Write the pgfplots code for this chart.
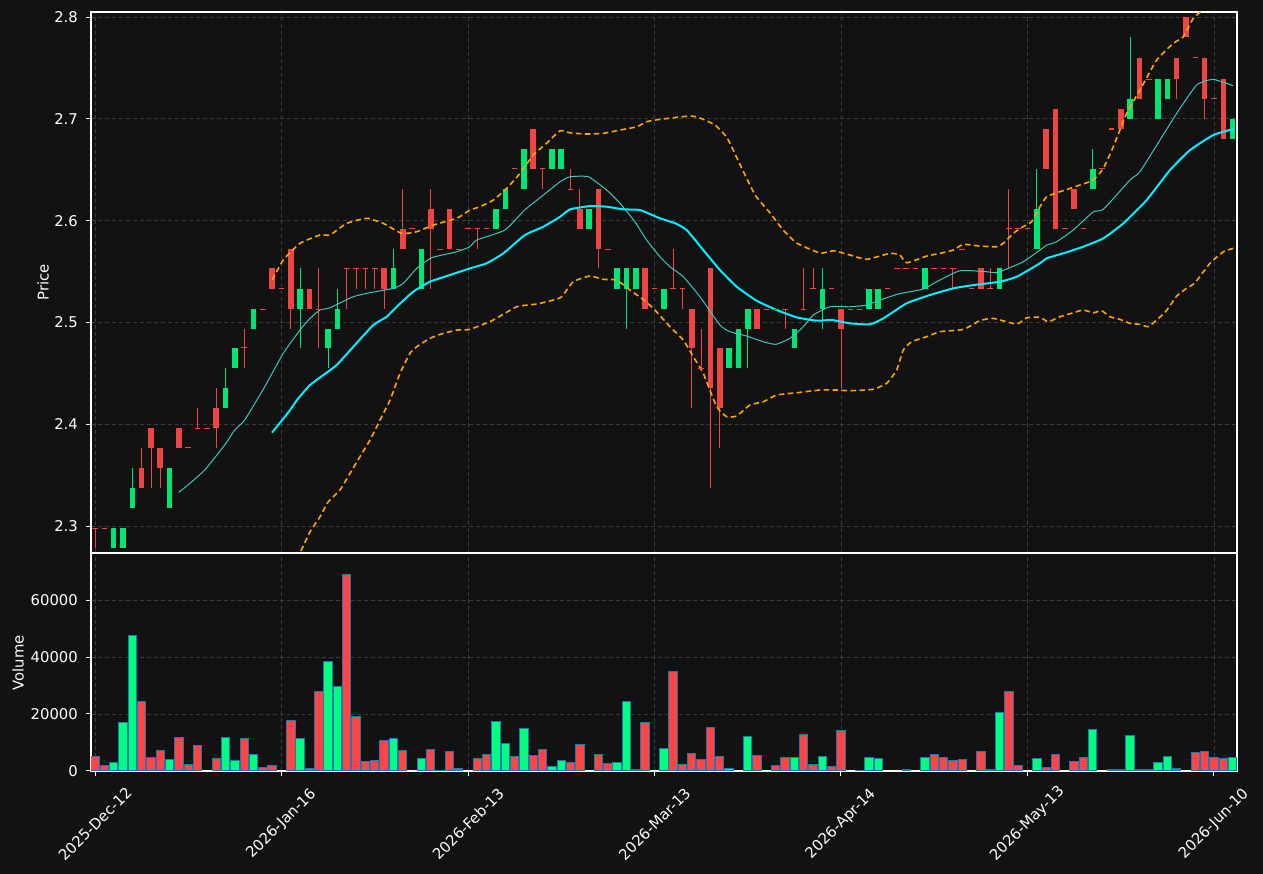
\documentclass[border=0pt]{standalone}
\usepackage{pgfplots}
\pgfplotsset{compat=1.18}
\usepackage{pgfplotstable}
\usepackage{fontspec}
\setmainfont{DejaVu Sans}
\definecolor{bg}{HTML}{121212}
\definecolor{gridc}{HTML}{3C3C3C}
\definecolor{cgreen}{HTML}{00E676}
\definecolor{cred}{HTML}{EF4444}
\definecolor{vgreen}{HTML}{00FF80}
\definecolor{vred}{HTML}{FF4444}
\definecolor{vedge}{HTML}{1F77B4}
\definecolor{maten}{HTML}{3CC8BE}
\definecolor{matwenty}{HTML}{00F0FF}
\definecolor{bbc}{HTML}{FFA500}

% green candles: index open high low close
\pgfplotstableread{
i o h l c
2 2.278 2.298 2.278 2.298
3 2.278 2.298 2.278 2.298
4 2.318 2.357 2.318 2.337
8 2.318 2.357 2.318 2.357
14 2.416 2.455 2.416 2.436
15 2.455 2.475 2.455 2.475
17 2.494 2.513 2.494 2.513
22 2.513 2.553 2.475 2.533
25 2.475 2.494 2.455 2.494
26 2.494 2.533 2.494 2.513
32 2.533 2.572 2.533 2.553
35 2.533 2.572 2.533 2.572
43 2.592 2.611 2.592 2.611
44 2.611 2.631 2.611 2.631
46 2.631 2.670 2.631 2.670
49 2.651 2.670 2.651 2.670
50 2.651 2.670 2.651 2.670
53 2.592 2.611 2.592 2.611
56 2.533 2.553 2.533 2.553
57 2.533 2.553 2.494 2.553
58 2.533 2.553 2.533 2.553
61 2.513 2.533 2.513 2.533
68 2.455 2.475 2.455 2.475
69 2.455 2.494 2.455 2.494
70 2.494 2.513 2.455 2.513
75 2.475 2.494 2.475 2.494
78 2.513 2.553 2.494 2.533
83 2.513 2.533 2.513 2.533
84 2.513 2.533 2.513 2.533
89 2.533 2.553 2.533 2.553
97 2.533 2.553 2.533 2.553
101 2.572 2.651 2.572 2.611
107 2.631 2.670 2.631 2.651
111 2.700 2.780 2.700 2.720
114 2.700 2.739 2.700 2.739
115 2.720 2.739 2.720 2.739
122 2.680 2.700 2.680 2.700
}\greentab

% red candles with a body
\pgfplotstableread{
i o h l c
5 2.357 2.377 2.337 2.337
6 2.396 2.396 2.337 2.377
7 2.377 2.377 2.337 2.357
9 2.396 2.396 2.377 2.377
13 2.416 2.436 2.377 2.396
19 2.553 2.553 2.533 2.533
21 2.572 2.572 2.494 2.513
23 2.533 2.533 2.513 2.513
31 2.553 2.553 2.513 2.533
33 2.592 2.631 2.572 2.572
36 2.611 2.631 2.533 2.592
38 2.611 2.611 2.572 2.572
47 2.690 2.690 2.651 2.651
52 2.611 2.631 2.592 2.592
54 2.631 2.631 2.553 2.572
59 2.553 2.553 2.513 2.513
64 2.513 2.513 2.416 2.475
66 2.553 2.553 2.337 2.436
67 2.475 2.475 2.377 2.416
71 2.513 2.513 2.494 2.494
80 2.513 2.513 2.436 2.494
95 2.553 2.553 2.533 2.533
102 2.690 2.690 2.651 2.651
103 2.710 2.710 2.592 2.592
105 2.631 2.631 2.611 2.611
110 2.710 2.710 2.690 2.690
112 2.760 2.760 2.720 2.720
116 2.760 2.760 2.720 2.739
117 2.800 2.800 2.780 2.780
119 2.760 2.760 2.700 2.720
121 2.739 2.739 2.680 2.680
}\redtab

% flat candles (open = close)
\pgfplotstableread{
i v h l
0 2.298 2.298 2.278
1 2.298 2.298 2.298
10 2.377 2.377 2.377
11 2.396 2.416 2.396
12 2.396 2.396 2.396
16 2.475 2.494 2.455
18 2.513 2.513 2.513
20 2.533 2.533 2.533
24 2.513 2.553 2.475
27 2.553 2.553 2.513
28 2.553 2.553 2.533
29 2.553 2.553 2.533
30 2.553 2.553 2.533
34 2.592 2.592 2.592
37 2.572 2.572 2.572
39 2.572 2.572 2.572
40 2.592 2.592 2.592
41 2.592 2.592 2.572
42 2.592 2.592 2.592
45 2.651 2.651 2.651
48 2.651 2.651 2.631
51 2.631 2.651 2.631
55 2.572 2.572 2.572
60 2.533 2.533 2.533
62 2.533 2.572 2.533
63 2.533 2.533 2.513
65 2.455 2.494 2.455
72 2.513 2.513 2.513
73 2.513 2.513 2.513
74 2.513 2.513 2.494
76 2.513 2.553 2.513
77 2.533 2.553 2.533
79 2.533 2.533 2.533
81 2.513 2.513 2.513
82 2.513 2.513 2.513
85 2.533 2.533 2.533
86 2.553 2.553 2.553
87 2.553 2.553 2.553
88 2.553 2.553 2.553
90 2.553 2.553 2.553
91 2.553 2.553 2.553
92 2.553 2.553 2.533
93 2.572 2.572 2.572
94 2.533 2.533 2.533
96 2.533 2.553 2.533
98 2.592 2.631 2.553
99 2.592 2.592 2.592
100 2.592 2.592 2.592
104 2.592 2.592 2.592
106 2.592 2.592 2.592
108 2.651 2.651 2.651
109 2.690 2.690 2.690
113 2.739 2.739 2.739
118 2.760 2.760 2.760
120 2.720 2.720 2.720
}\flattab

\pgfplotstableread{
i v
8.98 2.3331
9.97 2.3403
11.76 2.3550
13.91 2.3796
14.98 2.3943
16.05 2.4041
18.2 2.4368
20.19 2.4697
21.98 2.4925
23.06 2.5040
24.13 2.5122
25.2 2.5144
27.7 2.5253
29.49 2.5292
31.99 2.5335
33.06 2.5384
34.5 2.5531
36.11 2.5636
38.79 2.5694
40.21 2.5744
40.93 2.5809
43.97 2.5908
46.11 2.6107
48.08 2.6251
49.87 2.6382
50.94 2.6431
52.9 2.6431
54.87 2.6301
56.3 2.6170
57.9 2.5989
59.16 2.5809
60.59 2.5645
61.66 2.5547
63.09 2.5449
64.88 2.5252
67.02 2.4974
68.1 2.4909
69.89 2.4866
71.67 2.4810
73.03 2.4785
74.53 2.4844
75.96 2.4958
77.03 2.5073
78.82 2.5154
80.97 2.5154
82.76 2.5171
84.18 2.5220
86.14 2.5279
88.82 2.5328
90.26 2.5400
92.76 2.5508
95.62 2.5498
96.7 2.5488
97.77 2.5525
99.55 2.5596
101.34 2.5711
102.06 2.5760
103.13 2.5793
104.91 2.5908
107.06 2.6087
108.13 2.6111
110.99 2.6399
112.06 2.6480
114.21 2.6792
116.0 2.7054
118.14 2.7332
119.92 2.7388
122.07 2.7325
}\matentab

\pgfplotstableread{
i v
18.98 2.3917
20.70 2.4113
21.80 2.4254
23.06 2.4385
24.48 2.4483
25.92 2.4582
27.7 2.4761
29.84 2.4974
31.28 2.5056
32.35 2.5154
34.13 2.5302
35.92 2.5400
38.07 2.5466
40.21 2.5531
42.0 2.5581
43.79 2.5679
46.11 2.5859
48.08 2.5940
49.87 2.6038
50.94 2.6111
53.08 2.6143
54.87 2.6137
56.65 2.6111
58.45 2.6104
60.59 2.6023
62.2 2.5975
63.45 2.5908
65.23 2.5711
67.02 2.5515
68.81 2.5351
70.96 2.5213
73.1 2.5122
75.25 2.5050
77.39 2.5017
79.0 2.5024
80.97 2.4991
83.11 2.4981
84.54 2.5040
87.05 2.5188
89.54 2.5269
92.04 2.5335
94.19 2.5367
97.05 2.5400
98.84 2.5449
101.34 2.5581
102.06 2.5630
103.84 2.5679
105.98 2.5744
108.13 2.5826
110.27 2.5973
112.78 2.6202
115.28 2.6497
117.43 2.6693
119.93 2.6841
122.07 2.6900
}\matwentytab

\pgfplotstableread{
i v
19 2.5416
20.19 2.5613
21.98 2.5777
24.13 2.5859
25.2 2.5859
26.99 2.5973
29.14 2.6023
30.92 2.5973
32.89 2.5875
34.5 2.5891
36.28 2.5957
38.79 2.6023
40.21 2.6104
41.29 2.6137
42.71 2.6202
44.15 2.6317
45.58 2.6465
47.0 2.6644
48.61 2.6775
49.87 2.6883
50.94 2.6863
52.73 2.6851
54.51 2.6858
56.3 2.6890
58.09 2.6922
59.16 2.6972
60.59 2.6995
63.8 2.7028
64.88 2.7008
66.5 2.6939
67.8 2.6811
69.2 2.6546
70.8 2.6251
72.4 2.6075
73.8 2.5908
75.25 2.5780
77.75 2.5682
79.18 2.5704
80.97 2.5662
82.76 2.5620
85.25 2.5679
86.33 2.5662
87.05 2.5586
89.19 2.5652
90.62 2.5679
92.04 2.5711
93.12 2.5767
94.91 2.5750
96.7 2.5744
97.4 2.5777
98.48 2.5875
99.38 2.5934
100.45 2.5989
101.34 2.6137
102.06 2.6235
103.48 2.6284
105.63 2.6350
107.06 2.6399
108.13 2.6514
109.2 2.6726
110.64 2.7054
112.06 2.7283
113.86 2.7578
115.64 2.7742
116.71 2.7807
117.78 2.7987
118.85 2.8069
120.5 2.8170
122 2.8220
}\bbuptab

\pgfplotstableread{
i v
19 2.242
20 2.249
21 2.262
21.98 2.2738
23.06 2.2944
24.13 2.3091
25.02 2.3239
26.27 2.3354
27.35 2.3518
28.42 2.3681
29.49 2.3845
30.56 2.4041
31.64 2.4238
32.71 2.4500
33.78 2.4697
34.5 2.4761
35.92 2.4844
37.35 2.4893
38.79 2.4925
40.21 2.4932
42.71 2.5024
45.22 2.5154
47.37 2.5181
49.15 2.5220
50.05 2.5253
51.29 2.5400
53.08 2.5456
54.51 2.5423
55.95 2.5417
57.37 2.5318
58.63 2.5237
59.87 2.5139
61.66 2.4958
63.09 2.4827
64.16 2.4663
65.23 2.4500
66.67 2.4172
67.74 2.4074
68.81 2.4081
70.24 2.4189
71.67 2.4221
73.1 2.4287
75.25 2.4309
77.75 2.4336
79.54 2.4336
80.97 2.4329
83.46 2.4343
84.9 2.4402
85.97 2.4532
86.68 2.4729
87.58 2.4810
89.19 2.4860
90.62 2.4909
93.12 2.4932
94.91 2.5017
96.33 2.5040
98.84 2.4984
99.91 2.5046
101.34 2.5050
102.23 2.5007
103.49 2.5056
104.91 2.5095
105.98 2.5122
107.06 2.5095
107.96 2.5115
108.85 2.5056
109.92 2.5030
110.99 2.4991
112.06 2.4981
112.95 2.4958
113.86 2.5024
114.75 2.5099
115.46 2.5188
116.0 2.5259
116.9 2.5325
117.96 2.5390
119.57 2.5581
121.0 2.5694
122.07 2.5728
}\bblowtab

% volume, green days
\pgfplotstableread{
i v
2 3040
3 17080
4 47600
8 4090
14 11810
15 3740
17 5850
22 11460
25 38480
26 29710
32 11460
35 4440
43 17430
44 9710
46 14970
49 1520
50 3740
56 3040
57 24450
58 470
61 7950
68 940
70 12160
75 4800
78 5150
83 4800
84 4440
89 4800
97 20580
101 4440
107 14620
111 12510
114 3040
115 5150
122 4800
}\volgtab

% volume, red days
\pgfplotstableread{
i v
0 5030
1 2100
5 24450
6 4800
7 7250
9 11810
10 2340
11 9000
13 4440
16 11460
18 1290
19 1990
21 17780
23 940
24 27950
27 69010
28 19180
29 3390
30 3740
31 10760
33 7250
36 7600
37 200
38 6900
39 940
41 4440
42 5850
45 5150
47 5500
48 7600
51 3040
52 9360
54 5850
55 2690
59 17080
62 34970
63 2340
64 6200
65 4090
66 15320
67 5150
71 5500
73 1990
74 4800
76 12870
77 2340
79 1520
80 14270
82 300
87 350
90 5850
91 4800
92 3740
93 4090
95 6900
96 350
98 27950
99 1990
102 1290
103 5850
105 3390
106 4800
109 350
110 580
112 350
113 350
116 940
118 6550
119 6900
120 4800
121 4440
}\volrtab

\pgfplotsset{
  panel/.style={
    scale only axis, width=1146pt,
    xmin=-0.43, xmax=122.47,
    axis background/.style={fill=bg},
    axis line style={white, line width=1.1pt},
    grid=major,
    major grid style={gridc, dash pattern=on 4pt off 3pt, line width=0.8pt},
    tick align=outside, major tick length=5pt,
    tick style={white, line width=1pt},
    tick pos=left,
    xtick={0,20,...,120},
    ticklabel style={font=\fontsize{14.8}{17}\selectfont, text=white},
    yticklabel style={anchor=east, inner sep=0pt, xshift=-8pt},
  },
  wick/.style={draw=none, mark=none, forget plot,
    error bars/.cd, y dir=plus, y explicit, error mark=none,
    error bar style={draw=#1, line width=0.9pt}},
  body/.style={draw=none, mark=none, forget plot,
    error bars/.cd, y dir=plus, y explicit, error mark=none,
    error bar style={draw=#1, line width=5.6pt}},
}

\begin{document}
\begin{tikzpicture}
\fill[bg] (0,0) rectangle (1263pt,874pt);

% ---------- price panel ----------
\begin{axis}[panel,
  at={(91pt,321pt)}, anchor=south west, height=541pt,
  ymin=2.2735, ymax=2.805,
  ytick={2.3,2.4,2.5,2.6,2.7,2.8},
  xticklabels={}, xtick style={draw=none},
  /pgf/number format/.cd, fixed, precision=1, assume math mode=true,
]
\addplot[wick=cgreen] table[x=i, y=l, y error plus expr=\thisrow{h}-\thisrow{l}] {\greentab};
\addplot[wick=cred] table[x=i, y=l, y error plus expr=\thisrow{h}-\thisrow{l}] {\redtab};
\addplot[wick=cred] table[x=i, y=l, y error plus expr=\thisrow{h}-\thisrow{l}] {\flattab};
\addplot[body=cgreen] table[x=i, y=o, y error plus expr=\thisrow{c}-\thisrow{o}] {\greentab};
\addplot[body=cred] table[x=i, y=c, y error plus expr=\thisrow{o}-\thisrow{c}] {\redtab};
\addplot[only marks, mark=-, mark size=2.8pt, mark options={draw=cred, line width=1.1pt}] table[x=i, y=v] {\flattab};
\addplot[maten, line width=1pt, smooth, tension=0.3] table[x=i, y=v] {\matentab};
\addplot[matwenty, line width=2pt, smooth, tension=0.3] table[x=i, y=v] {\matwentytab};
\addplot[bbc, line width=1.6pt, dash pattern=on 5.5pt off 3.5pt, smooth, tension=0.3] table[x=i, y=v] {\bbuptab};
\addplot[bbc, line width=1.6pt, dash pattern=on 5.5pt off 3.5pt, smooth, tension=0.3] table[x=i, y=v] {\bblowtab};
\end{axis}

% ---------- volume panel ----------
\begin{axis}[panel,
  at={(91pt,103pt)}, anchor=south west, height=218pt,
  ymin=0, ymax=76500,
  ytick={0,20000,40000,60000},
  scaled y ticks=false,
  xticklabels={2025-Dec-12,2026-Jan-16,2026-Feb-13,2026-Mar-13,2026-Apr-14,2026-May-13,2026-Jun-10},
  xticklabel style={inner sep=0pt, anchor=center, yshift=-48pt, rotate=45},
  /pgf/number format/.cd, fixed, precision=0, 1000 sep={}, assume math mode=true,
]
\addplot[ybar, bar width=8.4pt, bar shift=0pt, fill=vgreen, draw=vedge, line width=1pt] table[x=i, y=v] {\volgtab};
\addplot[ybar, bar width=8.4pt, bar shift=0pt, fill=vred, draw=vedge, line width=1pt] table[x=i, y=v] {\volrtab};
\end{axis}

\node[rotate=90, text=white, font=\fontsize{14.8}{17}\selectfont] at (43pt,592pt) {Price};
\node[rotate=90, text=white, font=\fontsize{14.8}{17}\selectfont] at (18pt,211pt) {Volume};
\end{tikzpicture}
\end{document}
